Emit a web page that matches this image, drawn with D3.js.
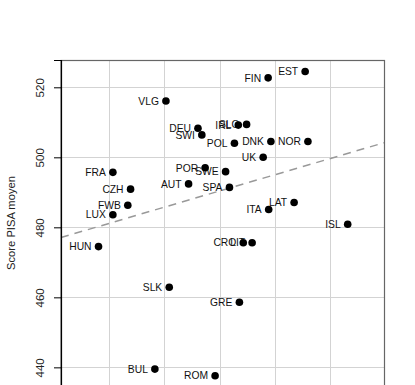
<!DOCTYPE html>
<html lang="fr">
	<head>
		<meta charset="utf-8">
		<title>Score PISA moyen</title>
		<script type="text/javascript" src="https://cdn.jsdelivr.net/npm/d3@7/dist/d3.min.js"></script>
		<style type="text/css">
			body {
				margin: 0;
				background: #ffffff;
			}
			text {
				font-family: "Liberation Sans", Arial, Helvetica, sans-serif;
			}
		</style>
	</head>
	<body>
		<script type="text/javascript">

			//Country codes
			var pays = ["EST", "FIN", "VLG", "DEU", "SWI", "IRL", "SLO", "POL", "DNK", "NOR",
						"UK", "FRA", "POR", "SWE", "AUT", "SPA", "CZH", "FWB", "LAT", "ITA",
						"LUX", "ISL", "HUN", "CRO", "LIT", "SLK", "GRE", "BUL", "ROM"];

			//X values (axis not shown in the picture, read from grid spacing)
			var xVals = [45.5, 38.8, 20.3, 26.1, 26.8, 33.4, 34.9, 32.7, 39.3, 46.0,
						 37.9, 10.7, 27.4, 31.1, 24.4, 31.8, 13.9, 13.4, 43.5, 38.9,
						 10.7, 53.2, 8.1, 34.3, 35.9, 20.9, 33.6, 18.3, 29.2];

			//Mean PISA scores
			var scores = [524.5, 522.7, 516.1, 508.3, 506.4, 509.2, 509.4, 504.0, 504.5, 504.5,
						  500.0, 495.7, 497.0, 495.9, 492.4, 491.4, 490.9, 486.3, 487.1, 485.1,
						  483.6, 480.9, 474.5, 475.6, 475.6, 462.9, 458.6, 439.5, 437.6];

			//Tick values
			var yTicks = [440, 460, 480, 500, 520];
			var xGrid = [10, 20, 30, 40, 50];

			//Trend line ends (x, score)
			var trendX = [1.31, 59.86];
			var trendY = [477.1, 504.2];

			var dataset = pays.map(function(p, i) {
				return { code: p, x: xVals[i], score: scores[i] };
			});

			//Width and height of SVG canvas
			var w = 415;
			var h = 385;

			//Plot region (bottom edge falls just outside the picture)
			var padLeft = 61;
			var padRight = 384.5;
			var padTop = 60;
			var padBottom = 388;

			var xScale = d3.scaleLinear()
						.domain([1.31, 59.86])
						.range([padLeft, padRight]);

			var yScale = d3.scaleLinear()
						.domain([434.1, 527.8])
						.range([padBottom, padTop]);

			var svg = d3.select("body")
						.append("svg")
						.attr("width", w)
						.attr("height", h);

			//Grid lines
			svg.append("g")
				.selectAll("line")
				.data(yTicks)
				.enter()
				.append("line")
				.attr("x1", padLeft)
				.attr("x2", padRight)
				.attr("y1", function(d) { return Math.round(yScale(d)) + 0.5; })
				.attr("y2", function(d) { return Math.round(yScale(d)) + 0.5; })
				.attr("stroke", "#d3d3d3")
				.attr("stroke-width", 1);

			svg.append("g")
				.selectAll("line")
				.data(xGrid)
				.enter()
				.append("line")
				.attr("x1", function(d) { return Math.round(xScale(d)) + 0.5; })
				.attr("x2", function(d) { return Math.round(xScale(d)) + 0.5; })
				.attr("y1", padTop)
				.attr("y2", padBottom)
				.attr("stroke", "#d3d3d3")
				.attr("stroke-width", 1);

			//Trend line, dashed
			svg.append("line")
				.attr("x1", xScale(trendX[0]))
				.attr("y1", yScale(trendY[0]))
				.attr("x2", xScale(trendX[1]))
				.attr("y2", yScale(trendY[1]))
				.attr("stroke", "#999999")
				.attr("stroke-width", 1.5)
				.attr("stroke-dasharray", "8,6");

			//Box
			svg.append("rect")
				.attr("x", padLeft)
				.attr("y", padTop + 0.5)
				.attr("width", padRight - padLeft)
				.attr("height", padBottom - padTop)
				.attr("fill", "none")
				.attr("stroke", "#666666")
				.attr("stroke-width", 1.2);

			//Y axis
			var yAxis = d3.axisLeft(yScale)
						.tickValues(yTicks)
						.tickSize(7)
						.tickPadding(0)
						.tickFormat(d3.format("d"));

			var yAxisAdd = svg.append("g")
				.attr("transform", "translate(" + padLeft + ",0)")
				.call(yAxis);

			yAxisAdd.select(".domain")
				.attr("stroke", "#000")
				.attr("stroke-width", 1.2);

			yAxisAdd.selectAll(".tick text")
				.attr("transform", "rotate(-90)")
				.attr("x", 0)
				.attr("y", -17.5)
				.attr("dy", 0)
				.attr("text-anchor", "middle")
				.attr("font-size", "11.5px")
				.attr("fill", "#222");

			//Axis title
			svg.append("text")
				.attr("transform", "translate(14.5,223) rotate(-90)")
				.attr("text-anchor", "middle")
				.attr("font-size", "11.2px")
				.attr("fill", "#222")
				.text("Score PISA moyen");

			//Labels left of the points
			svg.append("g")
				.selectAll("text")
				.data(dataset)
				.enter()
				.append("text")
				.attr("x", function(d) { return xScale(d.x) - 7; })
				.attr("y", function(d) { return yScale(d.score) + 3.7; })
				.attr("text-anchor", "end")
				.attr("font-size", "10.3px")
				.attr("fill", "#111")
				.text(function(d) { return d.code; });

			//Points
			svg.append("g")
				.selectAll("circle")
				.data(dataset)
				.enter()
				.append("circle")
				.attr("cx", function(d) { return xScale(d.x); })
				.attr("cy", function(d) { return yScale(d.score); })
				.attr("r", 3.8)
				.attr("fill", "#000");

		</script>
	</body>
</html>
